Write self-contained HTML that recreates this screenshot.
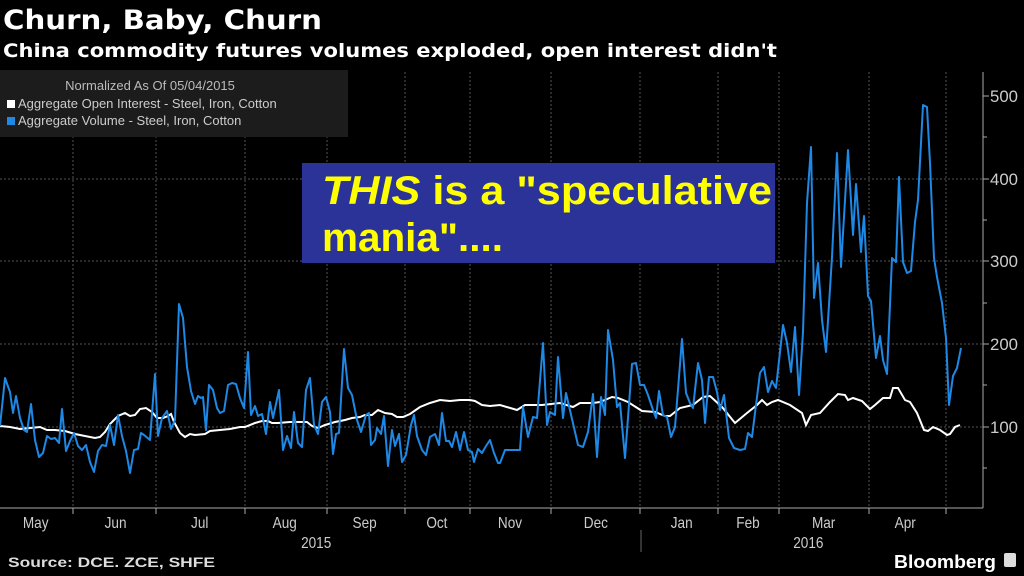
<!DOCTYPE html>
<html><head><meta charset="utf-8"><style>
body{margin:0;background:#000;width:1024px;height:576px;overflow:hidden;font-family:"Liberation Sans",sans-serif}
</style></head><body>
<svg width="1024" height="576" xmlns="http://www.w3.org/2000/svg" style="position:absolute;left:0;top:0">
<rect width="1024" height="576" fill="#000"/>
<text x="3" y="29" fill="#fff" font-size="27" font-weight="bold" font-family="DejaVu Sans, sans-serif" textLength="319" lengthAdjust="spacingAndGlyphs">Churn, Baby, Churn</text>
<text x="3" y="57" fill="#fff" font-size="19" font-weight="bold" font-family="DejaVu Sans, sans-serif" textLength="774" lengthAdjust="spacingAndGlyphs">China commodity futures volumes exploded, open interest didn't</text>
<g stroke="#555" stroke-width="1" stroke-dasharray="2,2">
<line x1="0" y1="179" x2="983" y2="179"/><line x1="0" y1="261" x2="983" y2="261"/><line x1="0" y1="344" x2="983" y2="344"/><line x1="0" y1="427" x2="983" y2="427"/>
<line x1="73" y1="72" x2="73" y2="508"/><line x1="156" y1="72" x2="156" y2="508"/><line x1="245" y1="72" x2="245" y2="508"/><line x1="327" y1="72" x2="327" y2="508"/><line x1="405" y1="72" x2="405" y2="508"/><line x1="470" y1="72" x2="470" y2="508"/><line x1="551" y1="72" x2="551" y2="508"/><line x1="640" y1="72" x2="640" y2="508"/><line x1="718" y1="72" x2="718" y2="508"/><line x1="779" y1="72" x2="779" y2="508"/><line x1="869" y1="72" x2="869" y2="508"/><line x1="946" y1="72" x2="946" y2="508"/>
</g>
<g stroke="#aaa" stroke-width="1">
<line x1="983" y1="72" x2="983" y2="508"/><line x1="0" y1="508" x2="983" y2="508"/>
<line x1="983" y1="96" x2="989" y2="96"/><line x1="983" y1="179" x2="989" y2="179"/><line x1="983" y1="261" x2="989" y2="261"/><line x1="983" y1="344" x2="989" y2="344"/><line x1="983" y1="427" x2="989" y2="427"/>
<line x1="983" y1="137" x2="987" y2="137"/><line x1="983" y1="220" x2="987" y2="220"/><line x1="983" y1="303" x2="987" y2="303"/><line x1="983" y1="385" x2="987" y2="385"/><line x1="983" y1="468" x2="987" y2="468"/>
<line x1="73" y1="508" x2="73" y2="514"/><line x1="156" y1="508" x2="156" y2="514"/><line x1="245" y1="508" x2="245" y2="514"/><line x1="327" y1="508" x2="327" y2="514"/><line x1="405" y1="508" x2="405" y2="514"/><line x1="470" y1="508" x2="470" y2="514"/><line x1="551" y1="508" x2="551" y2="514"/><line x1="640" y1="508" x2="640" y2="514"/><line x1="718" y1="508" x2="718" y2="514"/><line x1="779" y1="508" x2="779" y2="514"/><line x1="869" y1="508" x2="869" y2="514"/><line x1="946" y1="508" x2="946" y2="514"/>
<line x1="641" y1="530" x2="641" y2="552" stroke="#666"/>
</g>
<g fill="#ccc" font-size="17">
<text x="990" y="102" textLength="28" lengthAdjust="spacingAndGlyphs">500</text><text x="990" y="185" textLength="28" lengthAdjust="spacingAndGlyphs">400</text><text x="990" y="267" textLength="28" lengthAdjust="spacingAndGlyphs">300</text><text x="990" y="350" textLength="28" lengthAdjust="spacingAndGlyphs">200</text><text x="990" y="433" textLength="28" lengthAdjust="spacingAndGlyphs">100</text>
</g>
<g fill="#ccc" font-size="16" text-anchor="middle" transform="scale(0.85,1)">
<text x="42" y="528">May</text><text x="136" y="528">Jun</text><text x="235" y="528">Jul</text><text x="335" y="528">Aug</text><text x="429" y="528">Sep</text><text x="514" y="528">Oct</text><text x="600" y="528">Nov</text><text x="701" y="528">Dec</text><text x="802" y="528">Jan</text><text x="880" y="528">Feb</text><text x="969" y="528">Mar</text><text x="1065" y="528">Apr</text>
<text x="372" y="548">2015</text><text x="951" y="548">2016</text>
</g>
<text x="8" y="567" fill="#ddd" font-size="14" font-weight="bold" textLength="207" lengthAdjust="spacingAndGlyphs">Source: DCE. ZCE, SHFE</text>
<text x="894" y="568" fill="#fff" font-size="18" font-weight="bold" textLength="102" lengthAdjust="spacingAndGlyphs">Bloomberg</text>
<rect x="1004" y="553" width="12" height="14" rx="2" fill="#ddd"/>
<polyline fill="none" stroke="#fff" stroke-width="2" points="0,426 10,427 20,429 30,428 40,427 47,430 55,430 65,431 75,434 85,436 95,438 100,437 105,432 110,424 118,416 125,413 130,416 135,415 140,409 146,408 152,412 157,418 163,418 168,416 171,414 174,422 180,433 185,437 190,434 195,435 205,434 210,431 220,430 230,429 240,427 245,427 255,423 262,421 268,421 272,423 278,423 290,422 300,422 307,422 312,426 318,428 325,425 335,422 345,420 352,418 360,417 365,415 372,415 378,410 385,413 392,414 397,417 403,417 410,414 420,407 430,403 440,400 450,401 460,400 470,400 475,401 482,405 490,406 500,405 517,410 525,405 542,405 560,403 573,407 580,403 593,403 600,402 612,397 618,398 628,402 642,411 655,412 665,416 670,416 680,408 693,405 703,397 710,396 722,407 735,423 747,413 757,405 762,400 767,405 772,402 778,400 790,405 802,413 806,425 811,415 820,413 830,402 838,394 845,395 848,400 853,398 862,401 870,409 875,405 883,398 890,398 893,388 898,388 905,400 910,402 917,413 924,430 928,431 933,427 940,430 947,435 950,434 955,427 960,425"/>
<polyline fill="none" stroke="#1e88e5" stroke-width="2" stroke-linejoin="round" points="0,426 5,378 10,392 13,413 16,396 20,418 24,430 27,432 31,404 35,440 39,457 43,453 47,436 51,439 55,438 59,443 62,409 66,451 70,441 74,433 78,446 82,450 86,445 90,462 94,472 98,451 102,445 106,446 110,425 114,445 118,415 122,436 126,451 130,473 134,450 138,449 141,433 144,435 150,440 155,374 158,436 162,418 167,411 171,429 175,420 179,304 183,318 187,367 191,391 195,404 198,396 201,398 203,397 206,430 209,385 213,390 217,408 220,413 224,411 228,385 232,383 236,384 240,398 244,408 248,352 251,415 255,406 258,416 262,414 266,434 270,402 273,418 279,390 283,450 287,436 291,448 294,412 298,443 302,447 306,390 310,378 314,425 318,434 322,402 326,397 330,412 333,454 336,434 339,433 344,349 348,388 352,395 357,420 361,432 366,415 369,413 371,445 375,440 377,428 381,434 384,416 388,466 392,430 395,446 399,434 402,462 406,455 411,425 414,415 417,436 422,450 426,455 430,437 435,434 439,445 442,413 446,441 449,441 452,447 456,432 460,450 464,432 468,450 472,452 474,462 478,449 482,453 486,446 490,440 494,453 498,463 500,463 505,450 520,450 523,407 528,437 533,417 537,418 543,343 547,425 550,412 555,415 558,357 563,418 566,393 578,445 583,447 588,432 593,394 597,457 601,397 605,415 608,330 613,360 617,407 620,403 625,458 632,364 636,363 640,385 644,385 648,395 653,410 656,418 659,391 663,415 667,417 671,437 675,427 682,339 686,393 690,403 693,408 698,363 702,380 705,423 709,377 713,377 717,392 720,410 724,395 729,438 734,448 740,450 745,449 748,433 752,437 760,373 764,367 768,392 772,381 776,388 783,325 787,343 791,372 795,327 799,395 803,332 807,203 811,147 814,298 818,263 822,320 826,352 832,257 837,153 841,267 848,150 853,235 856,184 861,252 864,216 868,296 871,301 876,358 880,336 883,360 887,374 892,258 896,262 899,177 903,262 907,273 911,271 915,222 918,200 923,105 927,107 930,163 934,258 937,277 942,303 946,338 949,405 953,376 957,368 961,348"/>
<rect x="0" y="70" width="348" height="67" fill="#1c1c1c"/>
<text x="150" y="90" fill="#bbb" font-size="13" text-anchor="middle">Normalized As Of 05/04/2015</text>
<rect x="7" y="100" width="8" height="8" fill="#fff"/>
<text x="18" y="108" fill="#ccc" font-size="13">Aggregate Open Interest - Steel, Iron, Cotton</text>
<rect x="7" y="117" width="8" height="8" fill="#1e88e5"/>
<text x="18" y="125" fill="#ccc" font-size="13">Aggregate Volume - Steel, Iron, Cotton</text>
<rect x="302" y="163" width="473" height="100" fill="#2b3399"/>
<text x="322" y="204" fill="#ffff00" font-size="40" font-weight="bold" textLength="450" lengthAdjust="spacingAndGlyphs"><tspan font-style="italic">THIS</tspan> is a "speculative</text>
<text x="322" y="251" fill="#ffff00" font-size="40" font-weight="bold" textLength="181" lengthAdjust="spacingAndGlyphs">mania"....</text>
</svg>
</body></html>
